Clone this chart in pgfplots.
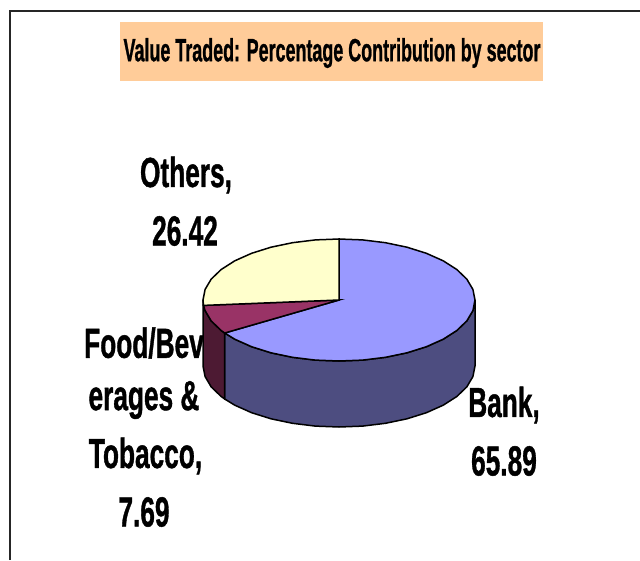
\documentclass[border=0pt]{standalone}
\usepackage{pgfplots}
\usepackage{fontspec}
\setmainfont{Liberation Sans}
\newfontfamily\heavy[FakeBold=1.2]{Liberation Sans Bold}
\pgfplotsset{compat=1.18}
\definecolor{bankTop}{HTML}{9999FF}
\definecolor{bankSide}{HTML}{4D4D80}
\definecolor{foodTop}{HTML}{993366}
\definecolor{foodSide}{HTML}{4D1A33}
\definecolor{otherTop}{HTML}{FFFFCC}
\definecolor{titleBox}{HTML}{FFCC99}
\begin{document}
\begin{tikzpicture}[lbl/.style={font=\heavy\fontsize{42}{42}\selectfont, xscale=0.625}]
\begin{axis}[
    scale only axis,
    width=640pt,
    height=560pt,
    xmin=0, xmax=640,
    ymin=0, ymax=560,
    y dir=reverse,
    hide axis,
]
% page and frame
\addplot[fill=white, draw=none] coordinates {(0,0) (640,0) (640,560) (0,560)} --cycle;
\addplot[black!85, line width=1.5pt] coordinates {(10,560) (10,11) (640,11)};
% title box
\addplot[fill=titleBox, draw=none] coordinates {(120,22) (543,22) (543,81) (120,81)} --cycle;
% side walls
\addplot[fill=bankSide, draw=black, line width=1.5pt] coordinates {
  (475,300) (472.9,310.6) (466.8,320.9) (456.8,330.5) (443.2,339.2) (426.4,346.7) (407,352.8)
  (385.5,357.3) (362.6,360.1) (339,361) (315.4,360.1) (292.5,357.3) (271,352.8) (251.6,346.7)
  (234.8,339.2) (224.7,333) (224.7,399) (234.8,405.2) (251.6,412.7) (271,418.8) (292.5,423.3)
  (315.4,426.1) (339,427) (362.6,426.1) (385.5,423.3) (407,418.8) (426.4,412.7) (443.2,405.2)
  (456.8,396.5) (466.8,386.9) (472.9,376.6) (475,366)} --cycle;
\addplot[fill=foodSide, draw=black, line width=1.5pt] coordinates {
  (224.7,333) (221.2,330.5) (211.2,320.9) (205.1,310.6) (203.5,305.4) (203,300) (203,366)
  (205.1,376.6) (211.2,386.9) (221.2,396.5) (224.7,399)} --cycle;
% top faces: Bank 65.89, Food 7.69, Others 26.42
\addplot[fill=bankTop, draw=black, line width=1.5pt] coordinates {
  (339,300) (339,239) (362.6,239.9) (385.5,242.7) (407,247.2) (426.4,253.3) (443.2,260.8)
  (456.8,269.5) (466.8,279.1) (472.9,289.4) (475,300) (472.9,310.6) (466.8,320.9) (456.8,330.5)
  (443.2,339.2) (426.4,346.7) (407,352.8) (385.5,357.3) (362.6,360.1) (339,361) (315.4,360.1)
  (292.5,357.3) (271,352.8) (251.6,346.7) (234.8,339.2) (224.7,333)} --cycle;
\addplot[fill=foodTop, draw=black, line width=1.5pt] coordinates {
  (339,300) (224.7,333) (221.2,330.5) (211.2,320.9) (205.1,310.6) (203.5,305.4)} --cycle;
\addplot[fill=otherTop, draw=black, line width=1.5pt] coordinates {
  (339,300) (203.5,305.4) (203,300) (205.1,289.4) (211.2,279.1) (221.2,269.5) (234.8,260.8)
  (251.6,253.3) (271,247.2) (292.5,242.7) (315.4,239.9) (339,239)} --cycle;
% text
\node[font=\heavy\fontsize{32}{32}\selectfont, xscale=0.56] at (axis cs:332,53) {Value Traded: Percentage Contribution by sector};
\node[lbl] at (axis cs:186,175) {Others,};
\node[lbl] at (axis cs:185,231) {26.42};
\node[lbl] at (axis cs:144,343) {Food/Bev};
\node[lbl] at (axis cs:144,400) {erages \&};
\node[lbl] at (axis cs:145.5,456) {Tobacco,};
\node[lbl] at (axis cs:144,512) {7.69};
\node[lbl] at (axis cs:504,405) {Bank,};
\node[lbl] at (axis cs:504,461) {65.89};
\end{axis}
\end{tikzpicture}
\end{document}
